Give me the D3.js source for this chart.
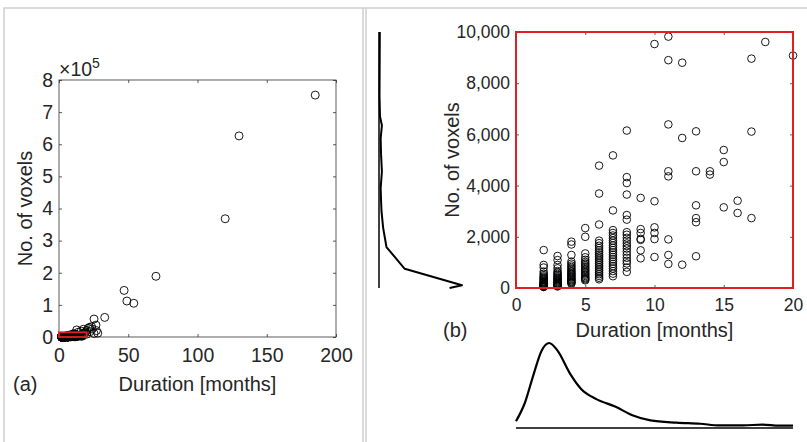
<!DOCTYPE html>
<html>
<head>
<meta charset="utf-8">
<script src="https://cdn.jsdelivr.net/npm/d3@7"></script>
<style>
  body { margin: 0; background: #fff; }
  text { font-family: "Liberation Sans", Arial, Helvetica, sans-serif; fill: #262626; }
</style>
</head>
<body>
<svg id="chart" width="807" height="442"></svg>
<script>
// ---- DATA ----
// Panel (b) / small-range points grouped by duration (months)
const columnMonths = [2, 3, 4, 5, 6, 7, 8, 9, 10, 11, 12, 13, 14, 15, 16, 17, 18, 20];
const columnVoxels = [
  [1480, 900, 800, 640, 560, 500, 450, 410, 380, 350, 320, 290, 260, 240, 220, 200, 180, 160, 145, 130, 115, 100, 90, 80, 70, 60, 50, 40],
  [1250, 1090, 900, 770, 660, 600, 550, 500, 460, 420, 380, 350, 320, 290, 260, 230, 200, 180, 160, 140, 120, 100, 80, 60],
  [1810, 1700, 1290, 1030, 950, 880, 820, 760, 700, 650, 600, 560, 520, 480, 440, 400, 360, 330, 300, 260, 230, 200, 170],
  [2340, 2000, 1350, 1200, 1100, 1020, 960, 900, 840, 780, 720, 670, 620, 570, 520, 470, 420, 380, 340, 300],
  [4780, 3690, 2480, 1850, 1750, 1650, 1560, 1470, 1390, 1310, 1240, 1170, 1100, 1030, 960, 890, 820, 750, 680, 610, 540, 470, 400, 340],
  [5180, 3030, 2260, 2150, 2050, 1950, 1850, 1760, 1660, 1570, 1480, 1390, 1300, 1210, 1120, 1030, 940, 850, 760, 660, 560, 460],
  [6150, 4330, 4100, 3650, 2850, 2670, 2180, 2080, 1960, 1850, 1740, 1640, 1540, 1420, 1300, 1180, 1060, 960, 800, 630],
  [3520, 2300, 2150, 1920, 1880, 1470, 1160],
  [9530, 3390, 2370, 2150, 1910, 1210],
  [9820, 8900, 6390, 4560, 4360, 1900, 1290, 940],
  [8800, 5860, 910],
  [6120, 4560, 3230, 2730, 2570, 1240],
  [4560, 4430],
  [5390, 4920, 3150],
  [3410, 2930],
  [8960, 6110, 2730],
  [9610],
  [9080]
];
// Panel (a) points outside the small range
const largeDur = [185, 130, 120, 70, 47, 49, 54, 33, 25.3, 26.7, 25.3, 12.8, 17.6, 21, 22.4, 18, 14, 20, 23.5, 16, 24, 19, 27, 22, 28];
const largeVox = [753000, 626000, 368000, 189000, 145000, 112000, 105000, 61000, 56000, 37000, 11000, 22000, 24000, 27000, 16500, 12000, 15000, 20000, 32000, 18000, 25000, 14000, 20000, 30000, 12000];
// Marginal density of voxel counts (left of panel b), normalised
const voxDensityVox = [0, 110, 750, 1600, 2350, 3000, 3400, 3900, 4550, 5200, 5850, 6350, 6700, 7500, 8800, 10000];
const voxDensityVal = [0.85, 1.0, 0.31, 0.09, 0.05, 0.03, 0.025, 0.02, 0.035, 0.025, 0.02, 0.035, 0.012, 0.006, 0.008, 0.01];
// Marginal density of durations (below panel b), normalised
const durDensityDur = [0, 0.65, 1.25, 1.85, 2.4, 3.0, 3.9, 4.7, 5.8, 7.2, 8.4, 9.7, 11.6, 13.3, 14.7, 16.4, 17.8, 19, 20];
const durDensityVal = [0.08, 0.30, 0.62, 0.91, 1.0, 0.91, 0.64, 0.46, 0.34, 0.25, 0.15, 0.09, 0.063, 0.05, 0.03, 0.03, 0.04, 0.028, 0.028];
const xTicksA = [0, 50, 100, 150, 200];
const yTicksA = [0, 1, 2, 3, 4, 5, 6, 7, 8];
const xTicksB = [0, 5, 10, 15, 20];
const yTicksB = [0, 2000, 4000, 6000, 8000, 10000];

// ---- BUILD ----
const smallPts = [];
columnMonths.forEach((m, i) => columnVoxels[i].forEach(v => smallPts.push([m, v])));
const bigPts = largeDur.map((d, i) => [d, largeVox[i]]);
const allPts = smallPts.concat(bigPts);

const svg = d3.select("#chart");
svg.append("rect").attr("width", 807).attr("height", 442).attr("fill", "#fff");

// panel frames
const frame = svg.append("g").attr("stroke", "#cfcfcf").attr("stroke-width", 1.5).attr("fill", "none");
frame.append("path").attr("d", "M4,442V8H807");
frame.append("path").attr("d", "M363,8V442");
frame.append("path").attr("d", "M366,8V442");

const axisColor = "#333";

function drawAxes(g, x, y, xt, yt, fmtY, fs, padX, padY) {
  const bx = g.append("g").attr("transform", `translate(0,${y.range()[0]})`)
    .call(d3.axisBottom(x).tickValues(xt).tickSizeInner(-3).tickSizeOuter(0).tickPadding(padX));
  const by = g.append("g").attr("transform", `translate(${x.range()[0]},0)`)
    .call(d3.axisLeft(y).tickValues(yt).tickFormat(fmtY).tickSizeInner(-3).tickSizeOuter(0).tickPadding(padY));
  const tx = g.append("g").attr("transform", `translate(0,${y.range()[1]})`)
    .call(d3.axisTop(x).tickValues(xt).tickFormat("").tickSizeInner(-3).tickSizeOuter(0));
  const ry = g.append("g").attr("transform", `translate(${x.range()[1]},0)`)
    .call(d3.axisRight(y).tickValues(yt).tickFormat("").tickSizeInner(-3).tickSizeOuter(0));
  [bx, by, tx, ry].forEach(a => {
    a.select(".domain").remove();
    a.selectAll("line").attr("stroke", axisColor).attr("stroke-width", 0.8);
    a.selectAll("text").attr("font-size", fs).attr("fill", "#262626")
      .attr("font-family", '"Liberation Sans", Arial, sans-serif');
  });
}

// ---- PANEL A ----
const xA = d3.scaleLinear().domain([0, 200]).range([59, 336]);
const yA = d3.scaleLinear().domain([0, 8e5]).range([337, 80]);
const gA = svg.append("g");
drawAxes(gA, xA, yA, xTicksA, yTicksA.map(v => v * 1e5), d => d / 1e5, 19.5, 11, 6);
gA.append("rect").attr("x", xA(0)).attr("y", yA(8e5)).attr("width", xA(200) - xA(0)).attr("height", yA(0) - yA(8e5))
  .attr("fill", "none").attr("stroke", axisColor).attr("stroke-width", 0.8);
gA.append("g").selectAll("circle").data(allPts).join("circle")
  .attr("cx", d => xA(d[0])).attr("cy", d => yA(d[1])).attr("r", 4)
  .attr("fill", "none").attr("stroke", "#000").attr("stroke-width", 0.9);
gA.append("rect").attr("x", xA(0)).attr("y", yA(10000) - 1.5).attr("width", xA(20) - xA(0)).attr("height", yA(0) - yA(10000) + 1.5)
  .attr("fill", "none").attr("stroke", "#e02020").attr("stroke-width", 1.8);
const mult = gA.append("text").attr("x", 59).attr("y", 76).attr("font-size", 19.5);
mult.append("tspan").text("×10");
mult.append("tspan").attr("dy", -8).attr("font-size", 14).text("5");
gA.append("text").attr("x", (xA(0) + xA(200)) / 2).attr("y", 391).attr("text-anchor", "middle")
  .attr("font-size", 20).text("Duration [months]");
gA.append("text").attr("x", 13).attr("y", 391).attr("font-size", 20).text("(a)");
gA.append("text").attr("transform", `translate(32,${(yA(0) + yA(8e5)) / 2}) rotate(-90)`)
  .attr("text-anchor", "middle").attr("font-size", 20).text("No. of voxels");

// ---- PANEL B ----
const xB = d3.scaleLinear().domain([0, 20]).range([516, 793]);
const yB = d3.scaleLinear().domain([0, 10000]).range([288, 32]);
const gB = svg.append("g");
drawAxes(gB, xB, yB, xTicksB, yTicksB, d3.format(","), 17.5, 10.5, 6);
gB.append("g").selectAll("circle").data(smallPts).join("circle")
  .attr("cx", d => xB(d[0])).attr("cy", d => yB(d[1])).attr("r", 3.8)
  .attr("fill", "none").attr("stroke", "#000").attr("stroke-width", 0.9);
gB.append("rect").attr("x", xB(0)).attr("y", yB(10000)).attr("width", xB(20) - xB(0)).attr("height", yB(0) - yB(10000))
  .attr("fill", "none").attr("stroke", "#e02020").attr("stroke-width", 2);
gB.append("text").attr("x", (xB(0) + xB(20)) / 2).attr("y", 337).attr("text-anchor", "middle")
  .attr("font-size", 20).text("Duration [months]");
gB.append("text").attr("x", 443).attr("y", 337).attr("font-size", 20).text("(b)");
gB.append("text").attr("transform", `translate(459,${(yB(0) + yB(10000)) / 2}) rotate(-90)`)
  .attr("text-anchor", "middle").attr("font-size", 20).text("No. of voxels");

// left marginal density (voxels)
const xD = d3.scaleLinear().domain([0, 1]).range([379, 462]);
gB.append("line").attr("x1", xD(0)).attr("x2", xD(0)).attr("y1", yB(10000)).attr("y2", yB(0))
  .attr("stroke", "#000").attr("stroke-width", 1.5);
gB.append("path").datum(voxDensityVox.map((v, i) => [v, voxDensityVal[i]]))
  .attr("d", d3.line().x(d => xD(d[1])).y(d => yB(d[0])))
  .attr("fill", "none").attr("stroke", "#000").attr("stroke-width", 2).attr("stroke-linejoin", "round");

// bottom marginal density (duration)
const yD = d3.scaleLinear().domain([0, 1]).range([428, 343]);
gB.append("line").attr("x1", xB(0)).attr("x2", xB(20)).attr("y1", yD(0)).attr("y2", yD(0))
  .attr("stroke", "#000").attr("stroke-width", 1.5);
gB.append("path").datum(durDensityDur.map((d, i) => [d, durDensityVal[i]]))
  .attr("d", d3.line().x(d => xB(d[0])).y(d => yD(d[1])).curve(d3.curveMonotoneX))
  .attr("fill", "none").attr("stroke", "#000").attr("stroke-width", 2.2);
</script>
</body>
</html>
